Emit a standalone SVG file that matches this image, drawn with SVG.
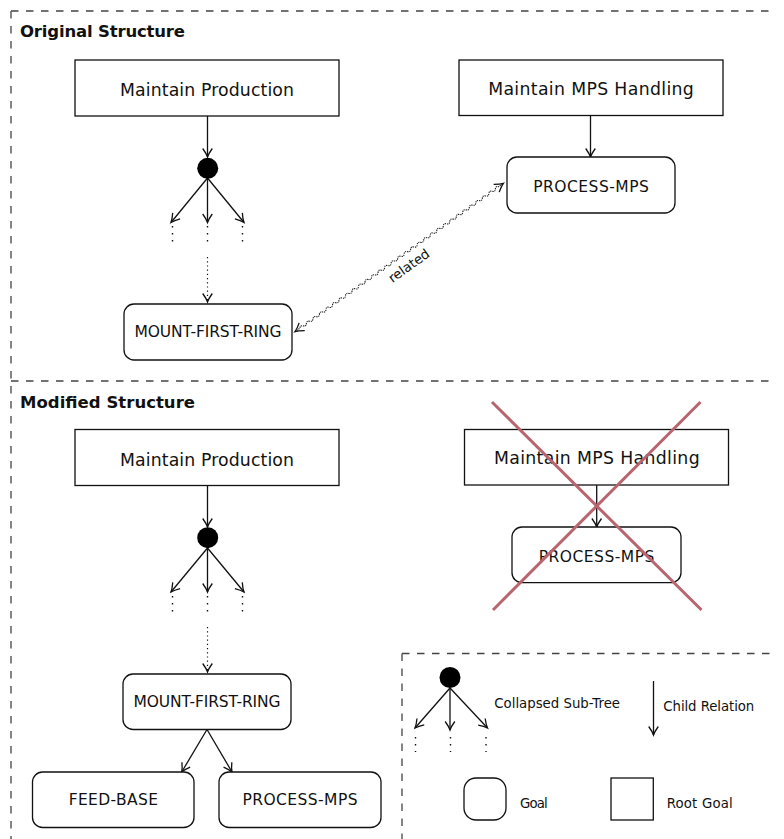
<svg xmlns="http://www.w3.org/2000/svg" width="784" height="839" viewBox="0 0 784 839">
  <style>
    .frame { fill: none; stroke: #444; stroke-width: 1.3; stroke-dasharray: 7.5 7.5; }
    .root { fill: #fff; stroke: #111; stroke-width: 1.3; }
    .goal { fill: #fff; stroke: #111; stroke-width: 1.3; }
    .edge { fill: none; stroke: #111; stroke-width: 1.3; }
    .dots { fill: none; stroke: #111; stroke-width: 1.4; stroke-dasharray: 1.4 5.6; }
    .dotted { fill: none; stroke: #111; stroke-width: 1.2; stroke-dasharray: 1.2 3; }
    .wave { fill: none; stroke: #222; stroke-width: 1.1; stroke-dasharray: 1.3 0.8; }
    .tip { fill: none; stroke: #111; stroke-width: 1.3; }
    .hub { fill: #000; }
    .title { font-family: "DejaVu Sans", "Liberation Sans", sans-serif; font-weight: bold; font-size: 16.5px; fill: #111; }
    .lbl-root { font-family: "DejaVu Sans", "Liberation Sans", sans-serif; font-size: 17.3px; fill: #111; text-anchor: middle; }
    .lbl-goal { font-family: "DejaVu Sans", "Liberation Sans", sans-serif; font-size: 15.5px; fill: #111; text-anchor: middle; }
    .lbl-small { font-family: "DejaVu Sans", "Liberation Sans", sans-serif; font-size: 13.3px; fill: #111; }
    .lbl-rel { font-family: "DejaVu Sans", "Liberation Sans", sans-serif; font-size: 13.3px; fill: #111; text-anchor: middle; }
    .strike { stroke: #b8656f; stroke-width: 3; fill: none; }
  </style>
  <defs>
    <marker id="to" viewBox="-11 -7 13 14" refX="0" refY="0" markerWidth="13" markerHeight="14" markerUnits="userSpaceOnUse" orient="auto">
      <path d="M-8.5,-4.8 Q-3.5,-1.2 0,0 Q-3.5,1.2 -8.5,4.8" fill="none" stroke="#111" stroke-width="1.3"/>
    </marker>
  </defs>

  <rect width="784" height="839" fill="#fff"/>

  <!-- dashed frames -->
  <g id="frames">
    <path class="frame" d="M11,11 H775 M11,11 V839 M11,381 H775 M402,653.5 H775 M402,653.5 V839"/>
    <text class="title" x="20" y="37" textLength="165" lengthAdjust="spacing">Original Structure</text>
    <text class="title" x="20" y="408" textLength="175" lengthAdjust="spacing">Modified Structure</text>
  </g>

  <!-- connectors -->
  <g id="connectors">
    <!-- original structure -->
    <line class="edge" x1="207.5" y1="116" x2="207.5" y2="157" marker-end="url(#to)"/>
    <line class="edge" x1="207.5" y1="178" x2="171" y2="222.5" marker-end="url(#to)"/>
    <line class="edge" x1="207.5" y1="178" x2="207.5" y2="222.5" marker-end="url(#to)"/>
    <line class="edge" x1="207.5" y1="178" x2="244" y2="222.5" marker-end="url(#to)"/>
    <line class="dots" x1="172.5" y1="226" x2="172.5" y2="242"/>
    <line class="dots" x1="207.5" y1="226" x2="207.5" y2="242"/>
    <line class="dots" x1="242.5" y1="226" x2="242.5" y2="242"/>
    <line class="dotted" x1="207.5" y1="257" x2="207.5" y2="302" marker-end="url(#to)"/>
    <line class="edge" x1="590.5" y1="115.5" x2="590.5" y2="157" marker-end="url(#to)"/>

    <!-- related: wavy double arrow -->
    <g transform="translate(295,331.7) rotate(-35.46)">
      <path class="wave" d="M0,0 L6,0 q2,-2.4 4,0 t4,0 t4,0 t4,0 t4,0 t4,0 t4,0 t4,0 t4,0 t4,0 t4,0 t4,0 t4,0 t4,0 t4,0 t4,0 t4,0 t4,0 t4,0 t4,0 t4,0 t4,0 t4,0 t4,0 t4,0 t4,0 t4,0 t4,0 t4,0 t4,0 t4,0 t4,0 t4,0 t4,0 t4,0 t4,0 t4,0 t4,0 t4,0 t4,0 t4,0 t4,0 t4,0 t4,0 t4,0 t4,0 t4,0 t4,0 t4,0 t4,0 t4,0 t4,0 t4,0 t4,0 t4,0 t4,0 t4,0 t4,0 t4,0 t4,0 t4,0 L255.8,0"/>
      <path class="tip" d="M8.5,-4.8 Q3.5,-1.2 0,0 Q3.5,1.2 8.5,4.8"/>
      <path class="tip" d="M247.3,-4.8 Q252.3,-1.2 255.8,0 Q252.3,1.2 247.3,4.8"/>
      <text class="lbl-rel" x="131" y="17">related</text>
    </g>

    <!-- modified structure -->
    <line class="edge" x1="207.5" y1="486" x2="207.5" y2="527" marker-end="url(#to)"/>
    <line class="edge" x1="207.5" y1="548" x2="171" y2="592" marker-end="url(#to)"/>
    <line class="edge" x1="207.5" y1="548" x2="207.5" y2="592" marker-end="url(#to)"/>
    <line class="edge" x1="207.5" y1="548" x2="244" y2="592" marker-end="url(#to)"/>
    <line class="dots" x1="172.5" y1="596" x2="172.5" y2="612"/>
    <line class="dots" x1="207.5" y1="596" x2="207.5" y2="612"/>
    <line class="dots" x1="242.5" y1="596" x2="242.5" y2="612"/>
    <line class="dotted" x1="207.5" y1="627" x2="207.5" y2="672" marker-end="url(#to)"/>
    <line class="edge" x1="207" y1="729.5" x2="181.7" y2="772" marker-end="url(#to)"/>
    <line class="edge" x1="207" y1="729.5" x2="232" y2="772" marker-end="url(#to)"/>
    <line class="edge" x1="596.7" y1="485" x2="596.7" y2="527" marker-end="url(#to)"/>

    <!-- legend -->
    <line class="edge" x1="450" y1="688" x2="415" y2="728" marker-end="url(#to)"/>
    <line class="edge" x1="450" y1="688" x2="450" y2="730" marker-end="url(#to)"/>
    <line class="edge" x1="450" y1="688" x2="487.5" y2="728" marker-end="url(#to)"/>
    <line class="dots" x1="415.5" y1="737" x2="415.5" y2="752"/>
    <line class="dots" x1="450.5" y1="737" x2="450.5" y2="752"/>
    <line class="dots" x1="486" y1="737" x2="486" y2="752"/>
    <line class="edge" x1="653.5" y1="681" x2="653.5" y2="735" marker-end="url(#to)"/>
  </g>

  <!-- original structure nodes -->
  <g id="orig-maintain-production">
    <rect class="root" x="75" y="60" width="264" height="56"/>
    <text class="lbl-root" x="207" y="95.5" textLength="174" lengthAdjust="spacing">Maintain Production</text>
  </g>
  <g id="orig-collapsed">
    <circle class="hub" cx="207.7" cy="168.3" r="10.5"/>
  </g>
  <g id="orig-mount-first-ring">
    <rect class="goal" x="124" y="304" width="168" height="56" rx="10"/>
    <text class="lbl-goal" x="208" y="337.3" textLength="147" lengthAdjust="spacing">MOUNT-FIRST-RING</text>
  </g>
  <g id="orig-maintain-mps">
    <rect class="root" x="459" y="60" width="264" height="55.5"/>
    <text class="lbl-root" x="591" y="95" textLength="205.7" lengthAdjust="spacing">Maintain MPS Handling</text>
  </g>
  <g id="orig-process-mps">
    <rect class="goal" x="507" y="157" width="168" height="56" rx="10"/>
    <text class="lbl-goal" x="591" y="191.7" textLength="115.7" lengthAdjust="spacing">PROCESS-MPS</text>
  </g>

  <!-- modified structure nodes -->
  <g id="mod-maintain-production">
    <rect class="root" x="75" y="429.5" width="264" height="56"/>
    <text class="lbl-root" x="207" y="465.5" textLength="174" lengthAdjust="spacing">Maintain Production</text>
  </g>
  <g id="mod-collapsed">
    <circle class="hub" cx="207.7" cy="537.7" r="10.5"/>
  </g>
  <g id="mod-mount-first-ring">
    <rect class="goal" x="123" y="674" width="168" height="55.5" rx="10"/>
    <text class="lbl-goal" x="207" y="707.3" textLength="147" lengthAdjust="spacing">MOUNT-FIRST-RING</text>
  </g>
  <g id="mod-feed-base">
    <rect class="goal" x="32.5" y="772" width="161.5" height="55.5" rx="10"/>
    <text class="lbl-goal" x="113.3" y="805" textLength="89.3" lengthAdjust="spacing">FEED-BASE</text>
  </g>
  <g id="mod-process-mps">
    <rect class="goal" x="219" y="772" width="162" height="55.5" rx="10"/>
    <text class="lbl-goal" x="300" y="805" textLength="115" lengthAdjust="spacing">PROCESS-MPS</text>
  </g>
  <g id="mod-maintain-mps">
    <rect class="root" x="464.5" y="429.5" width="264" height="55.5"/>
    <text class="lbl-root" x="596.8" y="463.5" textLength="205.7" lengthAdjust="spacing">Maintain MPS Handling</text>
  </g>
  <g id="mod-process-mps-removed">
    <rect class="goal" x="512" y="527" width="169" height="55.7" rx="10"/>
    <text class="lbl-goal" x="596.5" y="561.7" textLength="115.7" lengthAdjust="spacing">PROCESS-MPS</text>
  </g>
  <g id="removal-cross">
    <line class="strike" x1="492" y1="402" x2="701.5" y2="610"/>
    <line class="strike" x1="700.5" y1="402" x2="493" y2="610"/>
  </g>

  <!-- legend -->
  <g id="legend">
    <circle class="hub" cx="450" cy="677.5" r="10.5"/>
    <text class="lbl-small" x="494.3" y="707.7" textLength="125.7" lengthAdjust="spacing">Collapsed Sub-Tree</text>
    <text class="lbl-small" x="663.3" y="711" textLength="91" lengthAdjust="spacing">Child Relation</text>
    <rect class="goal" x="464" y="778" width="42" height="42" rx="12"/>
    <text class="lbl-small" x="520" y="807.7" textLength="27.7" lengthAdjust="spacing">Goal</text>
    <rect class="root" x="611" y="778" width="42.3" height="42"/>
    <text class="lbl-small" x="666.7" y="807.7" textLength="66" lengthAdjust="spacing">Root Goal</text>
  </g>
</svg>
